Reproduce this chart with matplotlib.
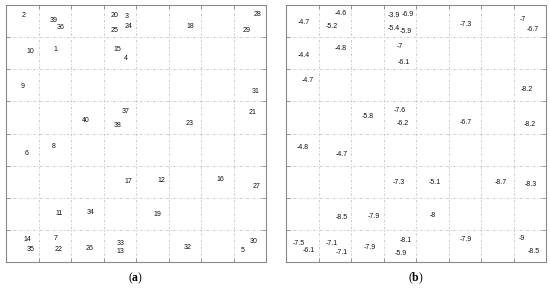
import matplotlib
matplotlib.use("Agg")
import matplotlib.pyplot as plt

plt.rcParams["mathtext.fontset"] = "custom"
plt.rcParams["mathtext.rm"] = "Liberation Serif"
plt.rcParams["mathtext.bf"] = "Liberation Serif:bold"

# Panel (a): node ids and positions (grid units 0-80)
a_labels = [2, 39, 36, 20, 3, 24, 25, 10, 1, 15, 4, 9, 37, 40, 38, 28, 18, 29, 31, 21,
            23, 6, 8, 17, 11, 34, 14, 7, 35, 22, 26, 33, 13, 12, 16, 27, 19, 32, 30, 5]
a_x = [5.5, 14.6, 16.9, 33.4, 37.2, 37.8, 33.5, 7.4, 15.1, 34.2, 36.8, 5.1, 36.9, 24.6, 34.2,
       77.3, 56.7, 73.9, 76.8, 75.8, 56.5, 6.2, 14.6, 37.6, 16.4, 25.9, 6.7, 15.4, 7.5, 16.3,
       25.8, 35.3, 35.1, 47.8, 65.9, 77.0, 46.6, 55.8, 76.3, 72.8]
a_y = [76.8, 75.1, 73.1, 76.8, 76.4, 73.2, 72.0, 65.5, 66.0, 66.0, 63.4, 54.6, 46.8, 44.0, 42.6,
       77.0, 73.2, 72.0, 53.0, 46.5, 43.1, 33.8, 36.1, 25.2, 15.2, 15.3, 6.9, 7.2, 3.8, 3.8,
       4.3, 5.7, 3.2, 25.3, 25.7, 23.4, 14.9, 4.6, 6.5, 3.7]

# Panel (b): values and positions
b_labels = ["-4.7", "-4.6", "-5.2", "-3.9", "-6.9", "-5.4", "-5.9", "-4.8", "-4.4", "-7",
            "-6.1", "-4.7", "-7.6", "-5.8", "-6.2", "-7.3", "-7", "-6.7", "-8.2", "-6.7",
            "-8.2", "-4.8", "-4.7", "-7.3", "-8.5", "-7.9", "-7.5", "-6.1", "-7.1", "-7.1",
            "-7.9", "-8.1", "-5.9", "-5.1", "-8.7", "-8.3", "-8", "-7.9", "-9", "-8.5"]
b_x = [5.5, 16.9, 14.2, 33.1, 37.5, 33.1, 36.8, 16.9, 5.5, 34.9, 36.1, 6.8, 35.1, 25.0, 35.9,
       55.2, 73.0, 75.9, 74.2, 55.4, 75.1, 5.1, 17.0, 34.6, 17.2, 26.9, 3.9, 6.9, 14.1, 17.2,
       25.9, 36.7, 35.3, 45.8, 66.2, 75.3, 45.1, 55.3, 72.7, 76.1]
b_y = [74.7, 77.2, 73.2, 76.7, 76.9, 72.8, 71.7, 66.4, 64.4, 67.0, 62.2, 56.6, 47.1, 45.2, 43.1,
       74.0, 75.6, 72.4, 53.8, 43.4, 42.9, 35.7, 33.6, 24.7, 13.9, 14.3, 5.7, 3.5, 5.8, 3.0,
       4.5, 6.8, 2.7, 24.7, 24.8, 24.0, 14.6, 6.9, 7.4, 3.2]

ticks = [0, 10, 20, 30, 40, 50, 60, 70, 80]

fig = plt.figure(figsize=(5.5, 2.91), dpi=100)
W, H = 550, 291
panels = [(6, a_labels, a_x, a_y, "a"), (286, b_labels, b_x, b_y, "b")]
for left, labels, xs, ys, tag in panels:
    ax = fig.add_axes([left / W, (H - 262) / H, 260 / W, 257 / H])
    ax.set_xlim(0, 80)
    ax.set_ylim(0, 80)
    ax.set_xticks(ticks)
    ax.set_yticks(ticks)
    ax.set_xticklabels([])
    ax.set_yticklabels([])
    ax.tick_params(direction="in", length=3, width=0.6, color="#888888",
                   top=True, right=True)
    ax.grid(True, color="#c4c4c4", linestyle=(0, (3, 2, 1, 2)), linewidth=0.6)
    for s in ax.spines.values():
        s.set_color("#8a8a8a")
        s.set_linewidth(0.8)
    for lab, x, y in zip(labels, xs, ys):
        ax.text(x, y, str(lab), fontsize=5, ha="center", va="center",
                family="Liberation Sans", color="#111111")
    fig.text((left + 130) / W, 1 - 278 / H, r"($\mathbf{" + tag + r"}$)", ha="center",
             va="center", fontsize=8.5, family="Liberation Serif")

fig.savefig("out.png", dpi=100)
